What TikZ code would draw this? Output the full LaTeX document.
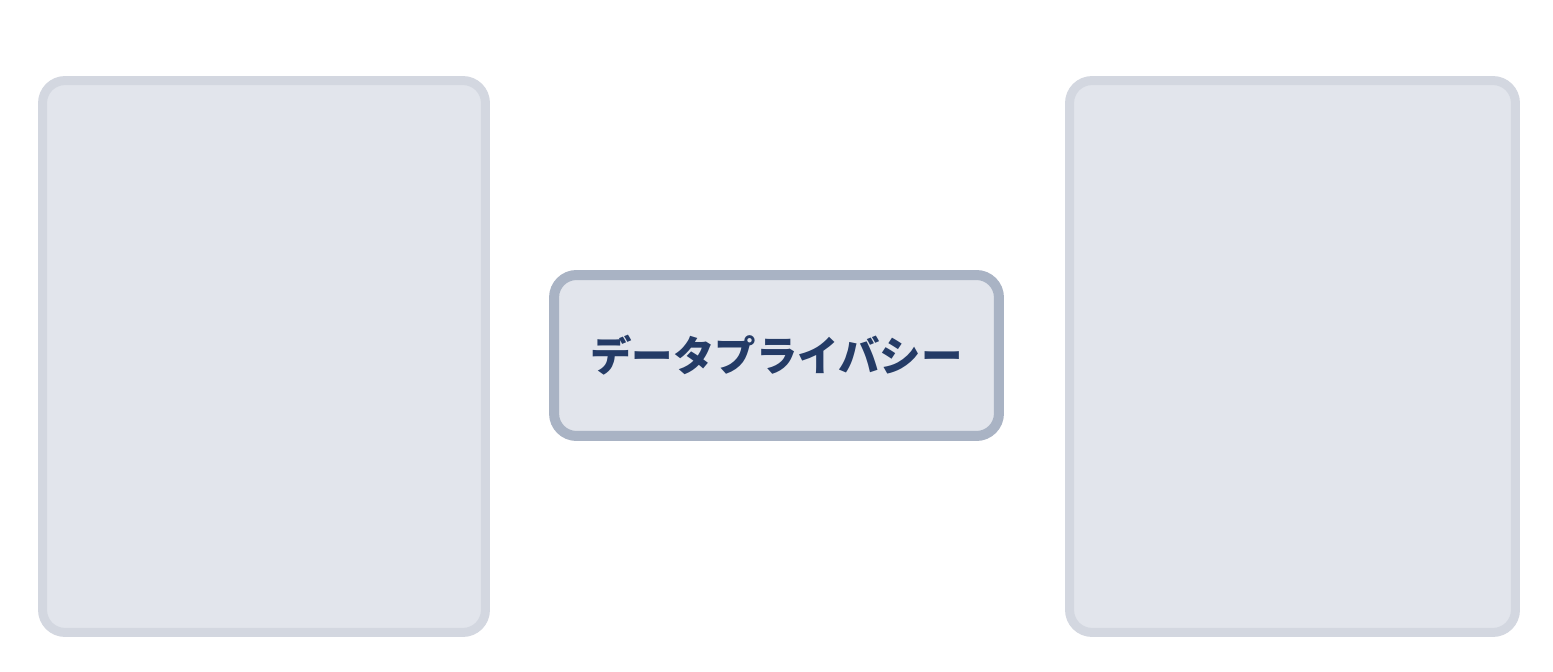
\documentclass[tikz,border=0pt]{standalone}
\usepackage{fontspec}
\newfontfamily\cjk{Noto Sans CJK JP}
\definecolor{boxfill}{HTML}{E2E5EC}
\definecolor{sideline}{HTML}{D3D7E0}
\definecolor{midline}{HTML}{A9B3C4}
\definecolor{txt}{HTML}{243B66}
\begin{document}
\begin{tikzpicture}[x=0.02cm,y=-0.02cm,
  sidebox/.style={draw=sideline,fill=boxfill,line width=0.18cm,rounded corners=0.45cm,
    minimum width=8.86cm,minimum height=11.04cm,inner sep=0pt},
  midbox/.style={draw=midline,fill=boxfill,line width=0.2cm,rounded corners=0.45cm,
    minimum width=8.9cm,minimum height=3.22cm,inner sep=0pt,
    font=\cjk\bfseries\fontsize{23.6}{28}\selectfont,text=txt}]
\useasboundingbox[fill=white] (0,0) rectangle (1553,672);
\node[sidebox] (left) at (264,356.5) {};
\node[sidebox,minimum width=8.92cm] (right) at (1292.5,356.5) {};
\node[midbox] (mid) at (776.5,355.5) {データプライバシー};
\end{tikzpicture}
\end{document}
